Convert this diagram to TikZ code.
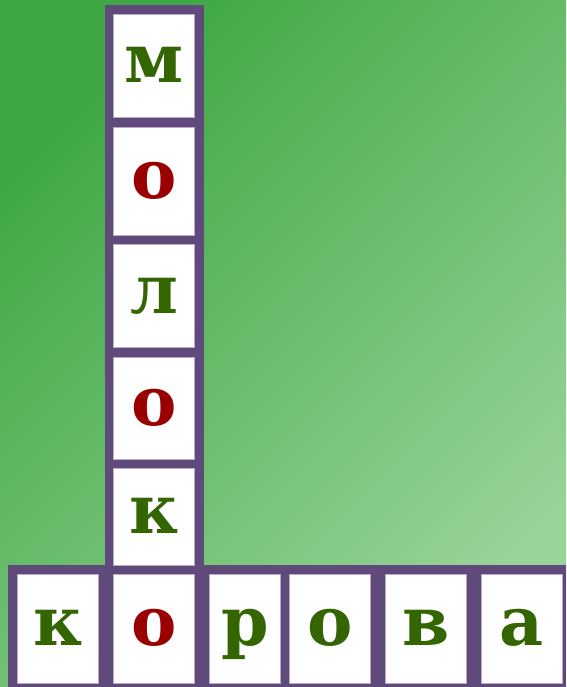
\documentclass[tikz,border=0pt]{standalone}
\usepackage{fontspec}
\setmainfont{DejaVu Serif}
\usepackage{xcolor}
\usepackage{tikz}
\usetikzlibrary{positioning}

\definecolor{frame}{HTML}{5F4A7B}
\definecolor{rim}{HTML}{B7A8CC}
\definecolor{leaf}{HTML}{336600}
\definecolor{berry}{HTML}{990000}
\definecolor{grassA}{HTML}{3FA844}
\definecolor{grassB}{HTML}{98D398}

\begin{document}
\begin{tikzpicture}[x=1pt,y=-1pt,
    cell/.style={fill=white,draw=rim,line width=0.8pt,inner sep=0pt,
      font=\bfseries\fontsize{68}{68}\selectfont,text height=34pt,text depth=0pt},
    green/.style={cell,text=leaf},
    red/.style={cell,text=berry}]
  \useasboundingbox (0,0) rectangle (566,687);
  \shade[top color=grassA,bottom color=grassB,shading angle=45] (0,0) rectangle (566,687);
  % purple frame
  \fill[frame] (104.7,5.3) rectangle (203.5,574);
  \fill[frame] (8,565) rectangle (566,687);
  % milk, downwards
  \node[green,minimum width=81.2,minimum height=102.5] (m1) at (154,65.75) {м};
  \node[red,minimum width=81.2,minimum height=108] (o1) at (154,181) {о};
  \node[green,minimum width=81.2,minimum height=103] (l1) at (154,296) {л};
  \node[red,minimum width=81.2,minimum height=102] (o2) at (154,408) {о};
  \node[green,minimum width=81.2,minimum height=97] (k1) at (154,516.5) {к};
  % cow, across
  \node[green,minimum width=80.9,minimum height=109] (k2) at (57.75,628.5) {к};
  \node[red,minimum width=81.2,minimum height=109] (o3) at (154,628.5) {о};
  \node[green,minimum width=71.2,minimum height=109] (r1) at (245,628.5) {р};
  \node[green,minimum width=81.4,minimum height=109] (o4) at (330.1,628.5) {о};
  \node[green,minimum width=81.4,minimum height=109] (v1) at (425.7,628.5) {в};
  \node[green,minimum width=80.6,minimum height=109] (a1) at (522,628.5) {а};
\end{tikzpicture}
\end{document}
